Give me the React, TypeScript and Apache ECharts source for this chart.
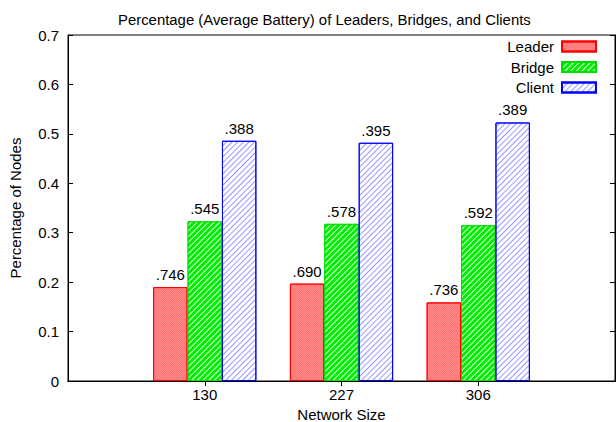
import React, { useEffect, useRef } from "react";
import * as echarts from "echarts";

const categories = ["130", "227", "306"];
const leaderValues = [0.19, 0.197, 0.159];
const bridgeValues = [0.323, 0.318, 0.315];
const clientValues = [0.486, 0.482, 0.523];
const leaderLabels = [".746", ".690", ".736"];
const bridgeLabels = [".545", ".578", ".592"];
const clientLabels = [".388", ".395", ".389"];
const yTicks = [0, 0.1, 0.2, 0.3, 0.4, 0.5, 0.6, 0.7];

const FONT = "Liberation Sans, Arial, sans-serif";
const FS = 15;

export default function App() {
  const ref = useRef<HTMLDivElement>(null);
  useEffect(() => {
    if (!ref.current) return;
    const chart = echarts.init(ref.current, undefined, { renderer: "svg" });
    const cats = ["", ...categories, ""];
    const pad = (arr: any[]) => ["-", ...arr, "-"];
    const labelFor = (labels: string[]) => ({
      show: true,
      position: "top",
      distance: 5,
      color: "#000",
      fontSize: FS,
      fontFamily: FONT,
      formatter: (p: any) => labels[p.dataIndex - 1] ?? "",
    });
    const tickInterval = (i: number) => i > 0 && i < cats.length - 1;
    chart.setOption({
      animation: false,
      backgroundColor: "#fff",
      textStyle: { fontFamily: FONT },
      title: {
        text: "Percentage (Average Battery) of Leaders, Bridges, and Clients",
        left: 113,
        top: 7,
        textStyle: { fontSize: 14.9, fontWeight: "normal", color: "#000", fontFamily: FONT },
      },
      legend: {
        orient: "vertical",
        right: 14,
        top: 34,
        align: "right",
        icon: "rect",
        itemWidth: 34,
        itemHeight: 10,
        itemGap: 5.5,
        textStyle: { fontSize: FS, color: "#000", fontFamily: FONT, padding: [0, 3, 0, 0] },
        data: ["Leader", "Bridge", "Client"],
      },
      grid: {
        left: 68,
        top: 35,
        width: 547,
        height: 346,
        show: true,
        borderColor: "#000",
        borderWidth: 1,
        backgroundColor: "transparent",
        containLabel: false,
        outerBoundsMode: "none",
      },
      xAxis: [
        {
          type: "category",
          data: cats,
          boundaryGap: false,
          name: "Network Size",
          nameLocation: "middle",
          nameGap: 25,
          nameTextStyle: { fontSize: FS, color: "#000", fontFamily: FONT },
          axisLine: { show: true, lineStyle: { color: "#000" } },
          axisTick: { show: true, inside: true, length: 5, interval: (i: number) => tickInterval(i), lineStyle: { color: "#000" } },
          axisLabel: { color: "#000", fontSize: FS, margin: 6, interval: 0, fontFamily: FONT },
          splitLine: { show: false },
        },
        {
          type: "category",
          data: cats,
          boundaryGap: false,
          position: "top",
          axisLine: { show: true, lineStyle: { color: "#000" } },
          axisTick: { show: true, inside: true, length: 5, interval: (i: number) => tickInterval(i), lineStyle: { color: "#000" } },
          axisLabel: { show: false },
          splitLine: { show: false },
        },
      ],
      yAxis: [
        {
          type: "value",
          min: 0,
          max: 0.7,
          interval: 0.1,
          name: "Percentage of Nodes",
          nameLocation: "middle",
          nameGap: 45,
          nameTextStyle: { fontSize: FS, color: "#000", fontFamily: FONT },
          axisLine: { show: true, lineStyle: { color: "#000" } },
          axisTick: { show: true, inside: true, length: 5, lineStyle: { color: "#000" } },
          axisLabel: {
            color: "#000",
            fontSize: FS,
            margin: 9,
            fontFamily: FONT,
            formatter: (v: number) => {
              const t = yTicks.find((x) => Math.abs(x - v) < 1e-9);
              return t === 0 ? "0" : (t ?? v).toFixed(1);
            },
          },
          splitLine: { show: false },
        },
        {
          type: "value",
          min: 0,
          max: 0.7,
          interval: 0.1,
          position: "right",
          axisLine: { show: true, lineStyle: { color: "#000" } },
          axisTick: { show: true, inside: true, length: 5, lineStyle: { color: "#000" } },
          axisLabel: { show: false },
          splitLine: { show: false },
        },
      ],
      series: [
        {
          name: "Leader",
          type: "bar",
          data: pad(leaderValues),
          barGap: "0%",
          barCategoryGap: "24.5%",
          itemStyle: {
            color: "#ff8c8c",
            borderColor: "#ff0000",
            borderWidth: 1,
            decal: {
              symbol: "rect",
              symbolSize: 1,
              dashArrayX: [[1, 1], [0, 1, 1, 0]],
              dashArrayY: [1, 0],
              color: "rgba(255,90,90,0.5)",
            },
          },
          label: labelFor(leaderLabels),
        },
        {
          name: "Bridge",
          type: "bar",
          data: pad(bridgeValues),
          barGap: "0%",
          barCategoryGap: "24.5%",
          itemStyle: {
            color: "#00ee00",
            borderColor: "#00dd00",
            borderWidth: 1,
            decal: {
              symbol: "rect",
              symbolSize: 1,
              dashArrayX: [1, 0],
              dashArrayY: [1, 3],
              rotation: -Math.PI / 4,
              color: "rgba(255,255,255,0.9)",
            },
          },
          label: labelFor(bridgeLabels),
        },
        {
          name: "Client",
          type: "bar",
          data: pad(clientValues),
          barGap: "0%",
          barCategoryGap: "24.5%",
          itemStyle: {
            color: "#ffffff",
            borderColor: "#0000ff",
            borderWidth: 1,
            decal: {
              symbol: "rect",
              symbolSize: 1,
              dashArrayX: [1, 0],
              dashArrayY: [1, 3],
              rotation: -Math.PI / 4,
              color: "rgba(80,80,255,0.6)",
            },
          },
          label: labelFor(clientLabels),
        },
      ],
    });
    return () => chart.dispose();
  }, []);
  return (
    <div
      ref={ref}
      style={{ position: "fixed", left: 0, top: 0, width: 616, height: 422, background: "#fff" }}
    />
  );
}
